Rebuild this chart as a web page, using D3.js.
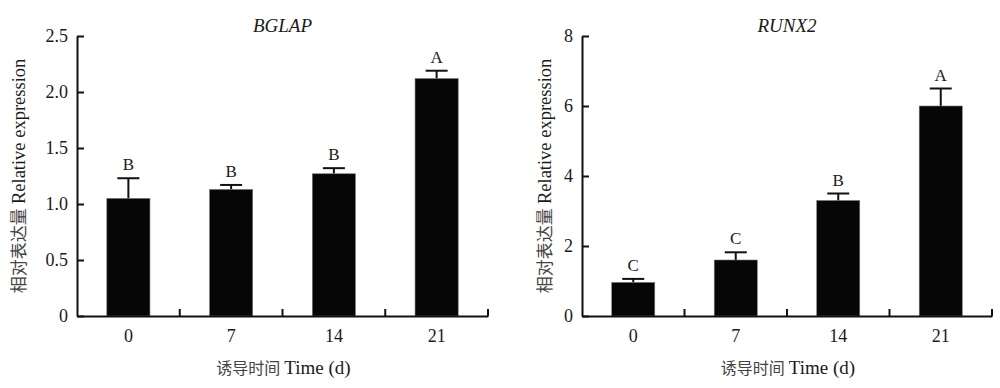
<!DOCTYPE html>
<html>
<head>
<meta charset="utf-8">
<script src="https://cdn.jsdelivr.net/npm/d3@7"></script>
<style>
  body { margin: 0; background: #fff; }
  svg text { font-family: "Liberation Serif", "Noto Sans CJK SC", serif; fill: #1a1a1a; }
</style>
</head>
<body>
<svg id="vis" width="1000" height="388"></svg>
<script>
// time points (days)
const days = ["0", "7", "14", "21"];

// BGLAP
const bglapMean = [1.05, 1.13, 1.27, 2.12];
const bglapErr = [0.18, 0.04, 0.05, 0.07];
const bglapLetters = ["B", "B", "B", "A"];
const bglapTicks = [0, 0.5, 1.0, 1.5, 2.0, 2.5];

// RUNX2
const runx2Mean = [0.96, 1.6, 3.3, 6.0];
const runx2Err = [0.1, 0.22, 0.2, 0.5];
const runx2Letters = ["C", "C", "B", "A"];
const runx2Ticks = [0, 2, 4, 6, 8];

const yLabelCn = "相对表达量", yLabelEn = "Relative expression";
const xLabelCn = "诱导时间", xLabelEn = "Time (d)";

const svg = d3.select("#vis");
const plotTop = 36, plotBottom = 316;

function drawPanel(opts) {
  const g = svg.append("g");

  const x = d3.scaleBand()
    .domain(days)
    .range([opts.left, opts.right])
    .paddingInner(0.58)
    .paddingOuter(0.29);

  const y = d3.scaleLinear()
    .domain([0, d3.max(opts.ticks)])
    .range([plotBottom, plotTop]);

  const fmt = opts.fmt || (d => d);

  // y axis, ticks pointing inward
  const ya = g.append("g")
    .attr("transform", `translate(${opts.left},0)`)
    .call(d3.axisLeft(y).tickValues(opts.ticks).tickSizeInner(-7).tickSizeOuter(0).tickPadding(9).tickFormat(fmt));
  ya.select(".domain").attr("stroke", "#111").attr("stroke-width", 2);
  ya.selectAll(".tick line").attr("stroke", "#111").attr("stroke-width", 2);
  ya.selectAll("text").attr("font-size", 18).attr("font-family", "Liberation Serif");

  const data = days.map((d, i) => ({ day: d, mean: opts.mean[i], err: opts.err[i], letter: opts.letters[i] }));

  // error bars (upper only)
  const cap = 11;
  g.selectAll(".err")
    .data(data)
    .join("line")
    .attr("x1", d => x(d.day) + x.bandwidth() / 2)
    .attr("x2", d => x(d.day) + x.bandwidth() / 2)
    .attr("y1", d => y(d.mean))
    .attr("y2", d => y(d.mean + d.err))
    .attr("stroke", "#111")
    .attr("stroke-width", 2);

  g.selectAll(".cap")
    .data(data)
    .join("line")
    .attr("x1", d => x(d.day) + x.bandwidth() / 2 - cap)
    .attr("x2", d => x(d.day) + x.bandwidth() / 2 + cap)
    .attr("y1", d => y(d.mean + d.err))
    .attr("y2", d => y(d.mean + d.err))
    .attr("stroke", "#111")
    .attr("stroke-width", 2);

  // bars
  g.selectAll(".bar")
    .data(data)
    .join("rect")
    .attr("x", d => x(d.day))
    .attr("y", d => y(d.mean))
    .attr("width", x.bandwidth())
    .attr("height", d => y(0) - y(d.mean))
    .attr("fill", "#060606")
    .attr("stroke", "#777")
    .attr("stroke-width", 0.6);

  // significance letters
  g.selectAll(".letter")
    .data(data)
    .join("text")
    .attr("x", d => x(d.day) + x.bandwidth() / 2)
    .attr("y", d => y(d.mean + d.err) - 8)
    .attr("text-anchor", "middle")
    .attr("font-size", 17)
    .text(d => d.letter);

  // x axis
  const xa = g.append("g")
    .attr("transform", `translate(0,${plotBottom})`)
    .call(d3.axisBottom(x).tickSize(0).tickPadding(13).tickSizeOuter(0));
  xa.select(".domain").attr("stroke", "#111").attr("stroke-width", 2);
  xa.selectAll("text").attr("font-size", 18).attr("font-family", "Liberation Serif");

  // inward ticks between groups
  const step = x.step();
  g.selectAll(".sep")
    .data(days)
    .join("line")
    .attr("x1", d => x(d) - step * x.paddingInner() / 2 + step)
    .attr("x2", d => x(d) - step * x.paddingInner() / 2 + step)
    .attr("y1", plotBottom)
    .attr("y2", plotBottom - 7)
    .attr("stroke", "#111")
    .attr("stroke-width", 2);

  // title
  g.append("text")
    .attr("x", (opts.left + opts.right) / 2)
    .attr("y", 32)
    .attr("text-anchor", "middle")
    .attr("font-size", 19)
    .attr("font-style", "italic")
    .text(opts.title);

  // axis titles
  const yt = g.append("text")
    .attr("transform", `translate(${opts.ylabX},${(plotTop + plotBottom) / 2}) rotate(-90)`)
    .attr("text-anchor", "middle")
    .attr("dy", "0.35em");
  yt.append("tspan").attr("font-size", 17).attr("fill", "#444").text(yLabelCn + " ");
  yt.append("tspan").attr("font-size", 18.5).text(yLabelEn);

  const xt = g.append("text")
    .attr("x", (opts.left + opts.right) / 2 + 1)
    .attr("y", 374)
    .attr("text-anchor", "middle");
  xt.append("tspan").attr("font-size", 16).attr("fill", "#444").text(xLabelCn + " ");
  xt.append("tspan").attr("font-size", 19).text(xLabelEn);
}

drawPanel({
  left: 77, right: 488, ylabX: 19,
  title: "BGLAP",
  mean: bglapMean, err: bglapErr, letters: bglapLetters,
  ticks: bglapTicks,
  fmt: d => d === 0 ? "0" : d.toFixed(1)
});

drawPanel({
  left: 582, right: 992, ylabX: 545,
  title: "RUNX2",
  mean: runx2Mean, err: runx2Err, letters: runx2Letters,
  ticks: runx2Ticks
});
</script>
</body>
</html>
